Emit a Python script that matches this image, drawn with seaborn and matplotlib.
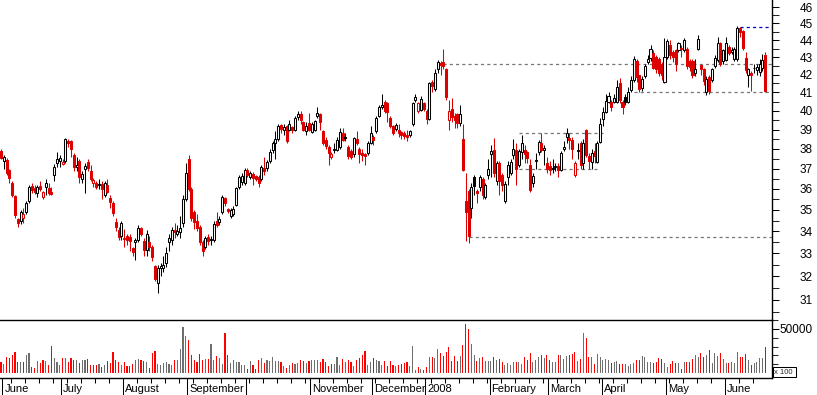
import numpy as np
import pandas as pd
import matplotlib
matplotlib.use("Agg")
import matplotlib.pyplot as plt
import seaborn as sns
from matplotlib.ticker import FixedLocator, FixedFormatter, NullFormatter
from matplotlib.patches import Rectangle

# Daily candles, end of May 2007 to mid June 2008
opens = [
    37.9, 37.4, 37.45, 36.95, 36.3, 35.65, 34.55, 34.5, 34.6, 34.9,
    35.4, 36.15, 36.05, 35.8, 36.15, 35.6, 36.1, 36.05, 35.85, 36.7,
    37.3, 37.4, 37.25, 37.4, 38.4, 38.4, 37.7, 37.1, 37.4, 36.5,
    37.0, 37.35, 36.9, 36.3, 36.3, 36.2, 36.25, 35.7, 36.2, 35.55,
    35.3, 34.45, 34.05, 33.8, 33.65, 33.8, 33.75, 33.25, 33.5, 33.6,
    34.15, 33.55, 33.15, 33.5, 33.3, 32.45, 31.7, 32.35, 32.35, 32.6,
    33.5, 33.6, 34.05, 33.9, 33.95, 34.4, 35.5, 37.5, 36.0, 34.9,
    34.5, 34.2, 33.5, 33.3, 33.75, 33.6, 33.6, 34.5, 34.45, 34.9,
    35.55, 35.05, 34.7, 34.8, 35.25, 36.1, 36.35, 36.3, 36.95, 36.6,
    36.75, 36.65, 36.6, 36.5, 37.05, 37.05, 37.4,
    37.95, 38.3, 38.5, 39.25, 38.95, 39.2, 39.0, 39.15, 39.0, 39.65,
    39.8, 39.4, 38.9, 39.35, 38.85, 39.0, 39.7, 39.8, 38.9, 38.45,
    38.1, 37.6, 37.95, 37.95, 38.1, 38.8, 38.55, 38.1, 37.9, 37.75,
    38.5, 38.0, 37.8, 37.75, 37.8, 38.3, 38.6, 38.9, 39.7, 40.2,
    40.5, 40.4, 39.6, 39.2, 39.05, 38.95, 38.85, 38.8, 38.7, 38.7,
    39.3, 40.6, 40.0, 40.05, 40.4, 40.0, 39.55, 41.6, 41.2, 42.3,
    42.65, 42.7, 42.3, 39.5, 40.1, 39.7, 39.8, 39.35, 38.5,
    35.4, 35.9, 35.1, 36.6, 35.9, 36.1, 36.5, 35.6, 36.7, 37.75,
    37.95, 36.4, 37.3, 36.7, 35.4, 36.6, 36.8, 37.7, 37.95, 37.2,
    37.85, 37.95, 37.85, 37.2, 36.3, 37.4, 37.85, 38.3, 37.95, 37.3,
    37.15, 37.0, 37.1, 37.15, 36.95, 38.0, 38.6, 38.55, 38.45, 36.7,
    37.9, 38.3, 37.3, 39.0, 37.65, 37.35, 37.9, 37.35, 38.35, 39.55,
    39.95, 40.5, 40.45, 40.5, 40.5, 41.55, 40.45, 40.75, 40.5, 41.15,
    41.7, 42.8, 41.95, 41.25, 41.9, 42.7, 42.95, 43.25, 43.0, 42.9,
    42.6, 41.6, 43.0, 43.7, 43.3, 43.4, 43.4, 43.5, 43.4, 43.5,
    42.8, 42.8, 42.1, 43.5, 42.55, 42.3, 41.05, 41.85, 41.7, 42.5,
    42.85, 43.8, 42.75, 42.85, 43.6, 43.3, 42.9, 42.9, 44.7, 44.55,
    42.95, 41.95, 42.1, 42.35, 42.25, 42.15, 42.35, 43.15,
]
highs = [
    38.0, 37.7, 37.55, 37.0, 36.4, 35.7, 34.6, 35.0, 35.1, 35.4,
    36.2, 36.3, 36.2, 36.2, 36.4, 35.9, 36.5, 36.3, 36.1, 37.25,
    37.85, 37.7, 37.5, 38.55, 38.5, 38.45, 37.8, 37.6, 37.5, 36.9,
    37.3, 37.5, 37.2, 36.55, 36.4, 36.5, 36.4, 36.4, 36.5, 35.7,
    35.4, 34.6, 34.2, 34.5, 34.1, 33.9, 33.9, 33.3, 33.7, 34.3,
    34.2, 33.7, 34.05, 33.8, 33.4, 32.5, 32.5, 32.6, 32.9, 33.3,
    33.9, 34.2, 34.4, 34.3, 34.7, 35.7, 37.3, 37.7, 36.1, 35.0,
    34.8, 34.3, 33.6, 33.8, 33.9, 33.8, 34.5, 34.9, 34.7, 35.7,
    35.6, 35.1, 35.1, 35.2, 36.1, 36.7, 36.8, 37.05, 37.05, 36.9,
    36.85, 36.7, 36.7, 37.2, 37.6, 37.45, 38.0,
    38.4, 38.9, 39.3, 39.3, 39.3, 39.25, 39.5, 39.2, 39.7, 40.0,
    40.0, 39.45, 39.4, 39.9, 39.4, 39.5, 40.2, 39.9, 39.0, 38.6,
    38.2, 37.85, 38.3, 38.6, 39.1, 39.1, 38.8, 38.2, 38.0, 38.6,
    38.9, 38.1, 38.0, 37.8, 38.4, 39.2, 38.7, 39.7, 40.3, 40.9,
    40.6, 40.5, 39.7, 39.25, 39.35, 39.3, 38.9, 38.9, 39.0, 39.0,
    40.5, 40.9, 40.5, 40.8, 40.5, 40.1, 41.6, 41.7, 42.3, 42.85,
    42.8, 43.45, 42.4, 40.6, 40.7, 39.9, 39.9, 40.3, 39.3,
    36.8, 36.0, 36.3, 36.7, 36.0, 36.7, 36.6, 36.3, 37.5, 38.2,
    38.55, 37.4, 37.4, 36.8, 36.4, 37.4, 37.5, 38.5, 38.3, 38.0,
    38.7, 38.2, 37.9, 37.5, 36.8, 37.8, 38.45, 38.8, 38.2, 37.6,
    37.4, 37.5, 37.3, 37.3, 37.9, 38.4, 39.1, 38.8, 38.6, 37.4,
    38.3, 38.4, 38.5, 39.05, 37.8, 38.0, 38.3, 38.4, 39.6, 40.2,
    40.9, 41.0, 40.6, 40.9, 41.7, 41.8, 40.6, 40.9, 41.3, 41.9,
    43.05, 42.9, 42.0, 41.9, 42.6, 43.1, 43.7, 43.4, 43.1, 43.0,
    42.7, 44.1, 44.05, 44.0, 43.4, 43.5, 43.9, 43.7, 44.1, 43.6,
    42.9, 42.9, 42.9, 44.3, 42.6, 42.4, 41.9, 42.0, 42.4, 43.1,
    44.2, 43.9, 43.5, 44.2, 43.7, 43.6, 43.6, 44.85, 44.8, 44.6,
    43.3, 42.35, 42.2, 42.6, 42.6, 42.9, 43.2, 43.3,
]
lows = [
    37.5, 37.0, 36.7, 36.3, 35.6, 34.6, 34.2, 34.35, 34.4, 34.8,
    35.3, 35.8, 35.75, 35.6, 35.9, 35.5, 35.7, 35.7, 35.7, 36.4,
    37.1, 37.1, 37.2, 37.3, 38.1, 37.6, 36.9, 36.9, 36.3, 36.3,
    35.8, 36.9, 36.4, 36.1, 36.0, 36.0, 35.5, 35.6, 35.8, 35.1,
    34.7, 34.0, 33.6, 33.6, 33.3, 33.4, 33.1, 32.9, 32.7, 33.5,
    33.8, 32.9, 32.9, 33.1, 32.65, 31.8, 31.3, 32.0, 32.2, 32.4,
    33.1, 33.4, 33.7, 33.8, 33.7, 34.2, 35.4, 35.9, 34.5, 34.1,
    34.0, 33.4, 32.9, 33.2, 33.4, 33.4, 33.5, 34.2, 34.3, 34.8,
    35.2, 34.85, 34.6, 34.7, 35.2, 36.0, 36.2, 36.2, 36.6, 36.5,
    36.2, 36.4, 36.1, 36.4, 36.7, 36.9, 37.3,
    37.8, 37.5, 38.4, 38.8, 38.7, 38.3, 38.9, 38.8, 38.9, 39.5,
    39.3, 38.9, 38.7, 38.9, 38.8, 38.9, 39.6, 38.95, 38.2, 38.0,
    37.2, 37.5, 37.8, 37.9, 38.0, 38.4, 38.4, 37.5, 37.5, 37.6,
    38.2, 37.3, 37.4, 37.2, 37.7, 38.25, 38.2, 38.8, 39.65, 40.1,
    39.9, 39.4, 39.1, 38.7, 38.9, 38.6, 38.5, 38.5, 38.4, 38.6,
    39.2, 40.5, 39.9, 40.0, 40.0, 39.3, 39.5, 41.0, 41.1, 42.1,
    42.0, 42.3, 40.6, 38.95, 39.4, 39.1, 39.1, 39.2, 36.9,
    33.55, 33.45, 34.6, 35.7, 35.3, 35.9, 35.5, 35.5, 36.5, 36.6,
    36.6, 36.2, 35.7, 35.9, 35.3, 36.2, 36.7, 37.5, 36.2, 37.1,
    37.5, 37.3, 37.3, 35.85, 36.1, 37.0, 37.7, 37.85, 37.2, 36.8,
    36.7, 36.8, 36.9, 36.6, 36.9, 37.9, 38.3, 38.0, 37.5, 36.6,
    37.5, 37.0, 37.0, 37.6, 37.0, 37.0, 37.3, 37.3, 38.3, 39.2,
    39.9, 40.4, 40.0, 40.4, 40.4, 40.4, 39.8, 40.3, 40.4, 41.0,
    41.6, 41.6, 41.0, 41.1, 41.8, 42.6, 42.8, 42.3, 42.1, 41.9,
    41.7, 41.5, 42.9, 42.9, 42.7, 42.2, 43.3, 43.0, 43.3, 42.3,
    42.2, 41.8, 41.9, 43.4, 42.0, 41.4, 40.85, 40.9, 41.6, 42.4,
    42.7, 42.5, 42.6, 42.8, 43.1, 43.2, 42.8, 42.8, 44.2, 43.4,
    42.1, 41.3, 41.1, 42.1, 42.0, 41.9, 42.2, 41.0,
]
closes = [
    37.55, 37.6, 36.8, 36.55, 35.7, 34.75, 34.4, 34.9, 34.8, 35.3,
    36.1, 35.95, 35.85, 36.1, 36.0, 35.85, 36.3, 35.8, 35.75, 37.1,
    37.5, 37.55, 37.35, 38.5, 38.3, 38.0, 37.1, 37.2, 36.6, 36.75,
    37.15, 37.05, 36.5, 36.45, 36.1, 36.25, 36.0, 36.3, 35.85, 35.35,
    34.85, 34.2, 33.75, 34.4, 33.7, 33.6, 33.55, 33.05, 33.6, 34.15,
    33.9, 33.15, 33.9, 33.3, 32.85, 31.9, 32.35, 32.45, 32.5, 33.0,
    33.7, 34.05, 33.95, 34.0, 34.15, 35.5, 36.8, 36.0, 34.6, 34.45,
    34.15, 33.5, 33.1, 33.7, 33.55, 33.65, 34.35, 34.3, 34.55, 35.6,
    35.3, 34.95, 35.0, 35.05, 36.05, 36.6, 36.65, 36.95, 36.7, 36.8,
    36.55, 36.5, 36.3, 37.1, 36.9, 37.35, 37.85,
    38.3, 38.5, 39.2, 39.05, 39.15, 38.4, 39.3, 38.95, 39.6, 39.8,
    39.5, 38.95, 39.2, 38.95, 39.3, 39.45, 39.9, 39.4, 38.3, 38.15,
    37.8, 37.75, 38.0, 38.45, 38.85, 38.45, 38.6, 37.65, 37.6, 38.55,
    38.3, 37.75, 37.7, 37.65, 38.3, 38.8, 38.45, 39.6, 40.2, 40.3,
    40.0, 39.95, 39.2, 38.8, 39.25, 38.8, 38.7, 38.65, 38.6, 38.9,
    40.4, 40.75, 40.4, 40.65, 40.1, 39.55, 41.5, 41.35, 42.1, 42.7,
    42.55, 42.5, 40.75, 40.0, 39.65, 39.5, 39.35, 39.85, 36.95,
    34.9, 33.8, 36.1, 36.15, 35.8, 36.6, 35.7, 36.2, 37.0, 37.9,
    36.8, 37.3, 36.4, 36.2, 36.25, 37.2, 37.35, 38.0, 37.0, 37.9,
    38.3, 37.75, 37.55, 35.95, 36.65, 37.45, 38.35, 37.95, 38.05, 37.0,
    36.95, 37.05, 37.15, 36.95, 37.8, 38.1, 38.8, 38.45, 38.0, 37.3,
    37.95, 37.2, 38.3, 37.7, 37.4, 37.8, 37.65, 38.3, 39.3, 39.95,
    40.55, 40.8, 40.2, 40.7, 41.3, 40.6, 40.2, 40.5, 41.0, 41.7,
    42.9, 41.85, 41.2, 41.75, 42.5, 42.9, 43.45, 42.4, 42.3, 42.1,
    42.0, 43.0, 43.95, 43.1, 43.0, 42.6, 43.8, 43.55, 44.0, 42.5,
    42.45, 41.95, 42.3, 44.05, 42.3, 41.65, 41.75, 41.1, 42.3, 42.95,
    43.85, 42.6, 43.4, 43.8, 43.25, 43.4, 43.45, 44.75, 44.5, 43.55,
    42.25, 42.3, 41.95, 42.4, 42.45, 42.6, 42.85, 41.1,
]
# volume, in hundreds of shares
volumes = [
    12500, 10600, 18600, 17400, 20800, 24200, 12100, 12900, 12900, 20800,
    22300, 7200, 6100, 14000, 11000, 15200, 13300, 8700, 30300, 17400,
    12900, 8700, 17400, 17400, 12100, 17400, 15200, 15200, 11000, 14400,
    15200, 16300, 9500, 9500, 9500, 10600, 6400, 9500, 13300, 11400,
    24200, 15200, 12100, 9500, 12900, 8000, 8300, 10600, 15200, 16300,
    15200, 14000, 12100, 5700, 23100, 25400, 10600, 9100, 11400, 12100,
    9800, 8700, 15200, 15200, 27700, 52700, 42400, 37900, 20100, 15200,
    12100, 22000, 14400, 16300, 16300, 33300, 15200, 19700, 16700, 10600,
    45800, 20800, 11700, 15200, 12100, 12100, 9500, 9500, 4500, 14000,
    9500, 4900, 15200, 17400, 11400, 15200, 13300, 18600, 13300, 13300,
    12100, 8300, 5700, 9500, 11000, 10600, 11400, 15200, 13300, 11700,
    13300, 15200, 15200, 14400, 12100, 16300, 12100, 8300, 10600, 10200,
    18600, 9500, 16300, 12100, 14400, 12100, 8300, 14400, 17400, 20800,
    25400, 9500, 12100, 17400, 15200, 14000, 9500, 13300, 8300, 13300,
    9500, 8300, 9500, 10600, 11400, 12100,
    8300, 30300, 3800, 6800, 4900, 3800, 6800, 18600, 18600, 17400,
    27700, 23100, 19700, 24200, 29900, 14000, 19700, 14000, 19700, 32200,
    56100, 50400, 33300, 20800, 13300, 17400, 18600, 14000, 14000, 14000,
    18600, 15200, 16300, 12500, 9500, 11700, 9500, 12900, 12900, 12900,
    10600, 18600, 14400, 23100, 12100, 15200, 18600, 20800, 17400, 20800,
    15200, 12900, 12900, 20800, 20800, 16300, 19700, 20800, 22000, 24200,
    14000, 16300, 45800, 40200, 18600, 18600, 10600, 22000, 18600, 15200,
    16300, 14400, 11700, 12100, 14000, 10200, 10600, 10600, 7600, 10600,
    11700, 15200, 15200, 19700, 18600, 12100, 12900, 11700, 12900, 17400,
    16300, 11700, 7200, 10600, 14000, 11700, 11700, 4900, 12500, 12900,
    12900, 16300, 20800, 18600, 23100, 18600, 20800, 26500, 11700, 23100,
    19700, 23100, 16300, 11700, 11700, 12900, 11700, 24200, 18600, 18600,
    22000, 15200, 9500, 11700, 12900, 17400, 17400, 29900,
]

month_labels = ["June", "July", "August", "September", "", "November", "December",
                "2008", "February", "March", "April", "May", "June"]
month_starts = [1, 22, 44, 67, 88, 111, 133, 152, 175, 196, 215, 238, 259]

# horizontal support / resistance lines drawn on the chart
level_prices = [42.6, 41.0, 38.8, 37.0, 33.73, 44.76]
level_from = [158, 226, 185, 185, 167, 264]
level_to = [276, 276, 215, 213, 276, 276]

price_ticks = list(range(31, 47))

df = pd.DataFrame({"open": opens, "high": highs, "low": lows,
                   "close": closes, "volume": volumes})
df["bar"] = np.arange(len(df))
prev_close = df["close"].shift(1).fillna(df["open"])
df["dir"] = np.where(df["close"] < prev_close, "down", "up")
df["hollow"] = df["close"] >= df["open"]

candle_col = {"up": "#000000", "down": "#dd0000"}
vol_col = {"up": "#6e6e6e", "down": "#ff0000"}

sns.set_style("white")
plt.rcParams["font.family"] = ["Liberation Sans", "DejaVu Sans"]

W, H = 817, 395
fig = plt.figure(figsize=(W / 100, H / 100), dpi=100)
axv = fig.add_axes([0, 1 - 378 / H, 772 / W, 58 / H])
ax = fig.add_axes([0, 1 - 320 / H, 772 / W, 320 / H])
ax.set_zorder(2)
ax.patch.set_visible(False)

# candles
edge = df["dir"].map(candle_col)
ax.vlines(df["bar"], df["low"], df["high"], colors=edge, linewidth=0.75, zorder=2)
body_lo = df[["open", "close"]].min(axis=1)
body_h = (df["open"] - df["close"]).abs().clip(lower=0.03)
face = np.where(df["hollow"], "white", edge)
ax.bar(df["bar"], body_h, bottom=body_lo, width=0.72, color=face,
       edgecolor=edge, linewidth=0.75, zorder=3)

for i, (p, a, b) in enumerate(zip(level_prices, level_from, level_to)):
    c = "#0000cc" if i == len(level_prices) - 1 else "#777777"
    ax.hlines(p, a, b, colors=c, linewidth=0.9, linestyles=(0, (2.5, 2.5)), zorder=1)

ax.set_yscale("log")
ax.set_xlim(-0.36, 275.4)
ax.set_ylim(30.17, 46.44)
ax.yaxis.set_major_locator(FixedLocator(price_ticks))
ax.yaxis.set_major_formatter(FixedFormatter([str(t) for t in price_ticks]))
ax.yaxis.set_minor_locator(FixedLocator([t + 0.5 for t in range(30, 47)]))
ax.yaxis.set_minor_formatter(NullFormatter())
ax.yaxis.tick_right()
ax.tick_params(axis="y", which="major", right=True, left=False, direction="out",
               length=5, width=0.75, pad=24.5, labelsize=8.5, colors="black",
               labelright=True, labelleft=False)
ax.tick_params(axis="y", which="minor", right=True, left=False, direction="out",
               length=5, width=0.75)
for lab in ax.get_yticklabels():
    lab.set_horizontalalignment("right")
ax.tick_params(axis="x", bottom=False, labelbottom=False)
for s in ["left", "top"]:
    ax.spines[s].set_visible(False)
for s in ["right", "bottom"]:
    ax.spines[s].set_color("black")
    ax.spines[s].set_linewidth(1.0)

# volume
sns.barplot(data=df, x="bar", y="volume", hue="dir", palette=vol_col,
            native_scale=True, dodge=False, width=0.4, linewidth=0,
            saturation=1, errorbar=None, legend=False, ax=axv)
axv.set_xlim(-0.36, 275.4)
axv.set_ylim(-5700, 60200)
axv.set_xlabel("")
axv.set_ylabel("")
axv.yaxis.tick_right()
axv.yaxis.set_major_locator(FixedLocator([50000]))
axv.yaxis.set_major_formatter(FixedFormatter(["50000"]))
axv.yaxis.set_minor_locator(FixedLocator([10000, 20000, 30000, 40000, 60000]))
axv.yaxis.set_minor_formatter(NullFormatter())
axv.tick_params(axis="y", which="major", right=True, left=False, direction="out",
                length=5, width=0.75, pad=24.5, labelsize=8.5, colors="black",
                labelright=True, labelleft=False)
axv.tick_params(axis="y", which="minor", right=True, left=False, direction="out",
                length=4, width=0.75)
for lab in axv.get_yticklabels():
    lab.set_horizontalalignment("right")

week_ticks = [b - 0.5 for b in range(4, len(df), 5) if b not in month_starts]
axv.xaxis.set_major_locator(FixedLocator([m - 0.5 for m in month_starts]))
axv.xaxis.set_major_formatter(NullFormatter())
axv.xaxis.set_minor_locator(FixedLocator(week_ticks))
axv.tick_params(axis="x", which="major", bottom=True, direction="out",
                length=12.5, width=0.75, colors="black")
axv.tick_params(axis="x", which="minor", bottom=True, direction="out",
                length=3.5, width=0.75, colors="black")
for s in ["left", "top"]:
    axv.spines[s].set_visible(False)
for s in ["right", "bottom"]:
    axv.spines[s].set_color("black")
    axv.spines[s].set_linewidth(1.0)

for pos, lab in zip(month_starts, month_labels):
    axv.annotate(lab, xy=(pos - 0.5, 0), xycoords=("data", "axes fraction"),
                 xytext=(1.5, -10), textcoords="offset points",
                 ha="left", va="baseline", fontsize=8, color="black")

# "x 100" multiplier box
fig.add_artist(Rectangle((773 / W, 1 - 377 / H), 23 / W, 10 / H,
                         transform=fig.transFigure, facecolor="white",
                         edgecolor="black", linewidth=0.75))
fig.text(774 / W, 1 - 372.5 / H, "x 100", fontsize=5.5, va="center", ha="left")

fig.savefig("out.png", dpi=100)
